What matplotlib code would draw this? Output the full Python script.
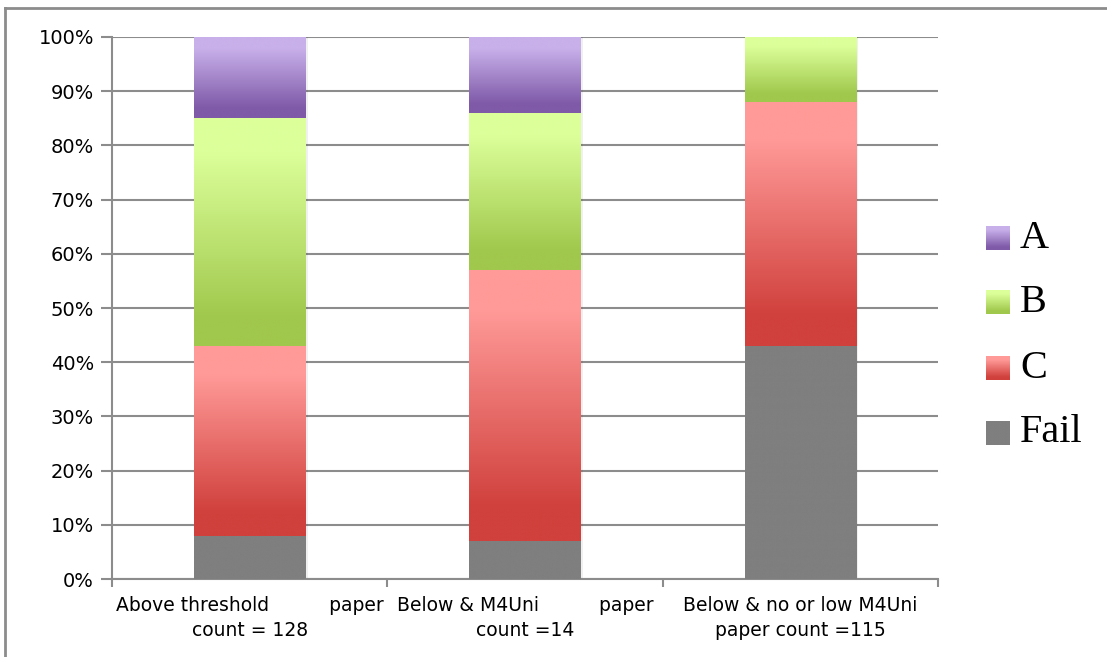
import matplotlib.pyplot as plt
import numpy as np
from matplotlib.colors import LinearSegmentedColormap
from matplotlib.lines import Line2D

# stacked share of grades per group (percent)
groups = ["Above threshold          paper\ncount = 128",
          "Below & M4Uni          paper\ncount =14",
          "Below & no or low M4Uni\npaper count =115"]
fail = [8, 7, 43]
grade_c = [35, 50, 45]
grade_b = [42, 29, 12]
grade_a = [15, 14, 0]

series = [("Fail", fail), ("C", grade_c), ("B", grade_b), ("A", grade_a)]
shades = {
    "A": ("#c8b0ea", "#7f5aa8"),
    "B": ("#dcff9a", "#a0c84c"),
    "C": ("#ff9a98", "#d0403c"),
    "Fail": ("#7f7f7f", "#7f7f7f"),
}


def grad_cmap(light, dark):
    return LinearSegmentedColormap.from_list(
        "g", [(0.0, light), (0.15, light), (0.88, dark), (1.0, dark)])


fig = plt.figure(figsize=(11.07, 6.57), dpi=100)
ax = fig.add_axes([0.1012, 0.1187, 0.7462, 0.825])

x = np.arange(len(groups))
width = 0.405
bottom = np.zeros(len(groups))
grad = np.linspace(0, 1, 256).reshape(-1, 1)

for name, vals in series:
    vals = np.array(vals, dtype=float)
    bars = ax.bar(x, vals, width, bottom=bottom, facecolor="none",
                  edgecolor="none", zorder=3)
    cmap = grad_cmap(*shades[name])
    for patch in bars:
        if patch.get_height() <= 0:
            continue
        x0, y0 = patch.get_x(), patch.get_y()
        x1, y1 = x0 + patch.get_width(), y0 + patch.get_height()
        # soft shadow to the right of the bar
        ax.add_patch(plt.Rectangle((x0 + 0.008, y0), x1 - x0, y1 - y0,
                                   facecolor="#000000", alpha=0.06,
                                   edgecolor="none", zorder=2))
        im = ax.imshow(grad, cmap=cmap, extent=(x0, x1, y0, y1),
                       origin="upper", aspect="auto", zorder=3,
                       interpolation="bilinear")
        im.set_clip_path(patch)
    bottom += vals

ax.set_xlim(-0.5, 2.5)
ax.set_ylim(0, 100)
ax.set_yticks(np.arange(0, 101, 10))
ax.set_yticklabels([f"{v}%" for v in range(0, 101, 10)],
                   fontsize=14, family="DejaVu Sans")
ax.yaxis.grid(True, color="#8c8c8c", linewidth=1.5, zorder=0)
ax.set_axisbelow(True)

# category ticks sit on the group boundaries
ax.set_xticks([-0.5, 0.5, 1.5, 2.5])
ax.set_xticklabels([])
ax.set_xticks(x, minor=True)
ax.set_xticklabels(groups, minor=True, fontsize=13.5, family="DejaVu Sans",
                   linespacing=1.45)
ax.tick_params(axis="x", which="minor", length=0, pad=12)
ax.tick_params(axis="x", which="major", length=6, color="#8c8c8c", width=1.5)
ax.tick_params(axis="y", length=8, color="#8c8c8c", width=1.5, pad=5)

for side in ("top", "right"):
    ax.spines[side].set_visible(False)
for side in ("left", "bottom"):
    ax.spines[side].set_color("#8c8c8c")
    ax.spines[side].set_linewidth(1.5)

# legend: gradient swatches with serif labels
W, H = 1107, 657
legend_rows = [("A", 238), ("B", 302), ("C", 368), ("Fail", 433)]
for name, yc in legend_rows:
    sw = fig.add_axes([986 / W, 1 - (yc + 12) / H, 24 / W, 24 / H])
    sw.imshow(grad, cmap=grad_cmap(*shades[name]), aspect="auto",
              interpolation="bilinear")
    sw.set_axis_off()
    fig.text(1020 / W, 1 - yc / H, name, fontsize=29,
             family="Liberation Serif", va="center", ha="left")

# chart frame
fig.add_artist(Line2D([5 / W, 1.0], [1 - 8 / H, 1 - 8 / H],
                      color="#8c8c8c", linewidth=2))
fig.add_artist(Line2D([5 / W, 5 / W], [0, 1 - 8 / H],
                      color="#8c8c8c", linewidth=2))

fig.savefig("out.png", dpi=100, facecolor="white")
